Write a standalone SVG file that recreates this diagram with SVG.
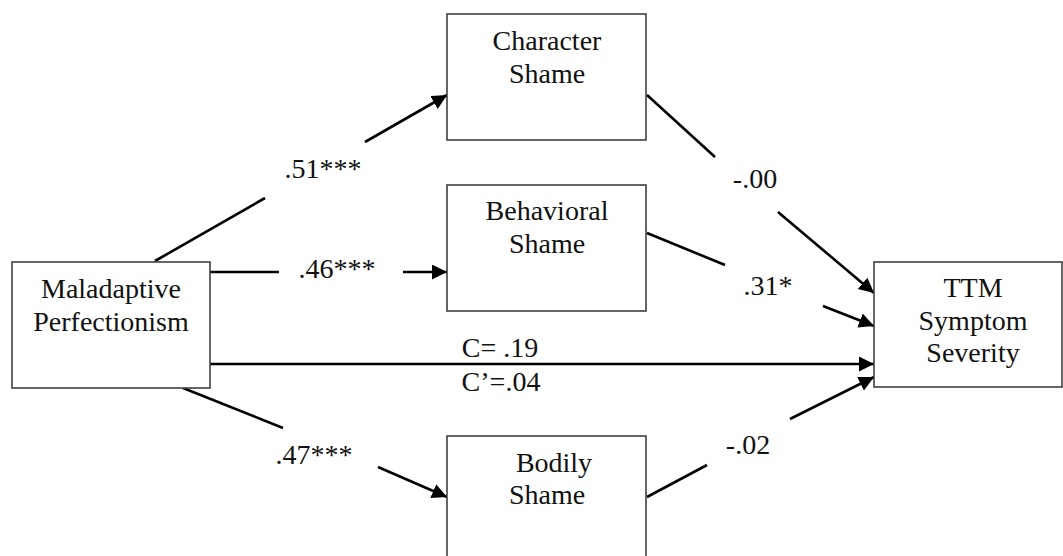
<svg xmlns="http://www.w3.org/2000/svg" width="1063" height="556" viewBox="0 0 1063 556">
<defs>
<style>
.box{fill:#fff;stroke:#404040;stroke-width:1.6}
.c{stroke:#000;stroke-width:2.6;fill:none}
.a{marker-end:url(#ah)}
</style>
<marker id="ah" markerUnits="userSpaceOnUse" markerWidth="16" markerHeight="16" refX="15" refY="7.5" orient="auto">
<path d="M0,0 L15,7.5 L0,15 z" fill="#000"/>
</marker>
</defs>
<rect width="1063" height="556" fill="#fff"/>
<g id="connectors">
<line class="c" x1="155" y1="261" x2="265" y2="198"/>
<line class="c a" x1="365" y1="142" x2="447" y2="95"/>
<line class="c" x1="210" y1="272" x2="279" y2="272"/>
<line class="c a" x1="403" y1="272" x2="447" y2="272"/>
<line class="c" x1="183" y1="388" x2="283" y2="428"/>
<line class="c a" x1="378" y1="467" x2="447" y2="497"/>
<line class="c a" x1="210" y1="364" x2="874" y2="364"/>
<line class="c" x1="647" y1="95" x2="715" y2="157"/>
<line class="c a" x1="778" y1="212" x2="874" y2="293"/>
<line class="c" x1="647" y1="233" x2="725" y2="265"/>
<line class="c a" x1="823" y1="306" x2="874" y2="326"/>
<line class="c" x1="647" y1="497" x2="707" y2="465"/>
<line class="c a" x1="790" y1="419" x2="874" y2="377"/>
</g>
<g font-family="Liberation Serif, Times New Roman, serif" font-size="28" fill="#111" text-anchor="middle">
<g id="labels">
<text x="323" y="178">.51***</text>
<text x="337" y="278">.46***</text>
<text x="314" y="464">.47***</text>
<text x="755" y="188">-.00</text>
<text x="768" y="295">.31*</text>
<text x="748" y="454">-.02</text>
<text x="500" y="357">C= .19</text>
<text x="501" y="391">C’=.04</text>
</g>
<g id="maladaptive">
<rect class="box" x="12" y="262" width="198" height="126"/>
<text x="111" y="298">Maladaptive</text>
<text x="111" y="331">Perfectionism</text>
</g>
<g id="character">
<rect class="box" x="447" y="14" width="199" height="126"/>
<text x="547" y="50">Character</text>
<text x="547" y="83">Shame</text>
</g>
<g id="behavioral">
<rect class="box" x="447" y="185" width="199" height="126"/>
<text x="547" y="220">Behavioral</text>
<text x="547" y="253">Shame</text>
</g>
<g id="bodily">
<rect class="box" x="447" y="436" width="199" height="126"/>
<text x="554" y="472">Bodily</text>
<text x="547" y="504">Shame</text>
</g>
<g id="ttm">
<rect class="box" x="874" y="262" width="188" height="125"/>
<text x="973" y="297">TTM</text>
<text x="973" y="330">Symptom</text>
<text x="973" y="362">Severity</text>
</g>
</g>
</svg>
